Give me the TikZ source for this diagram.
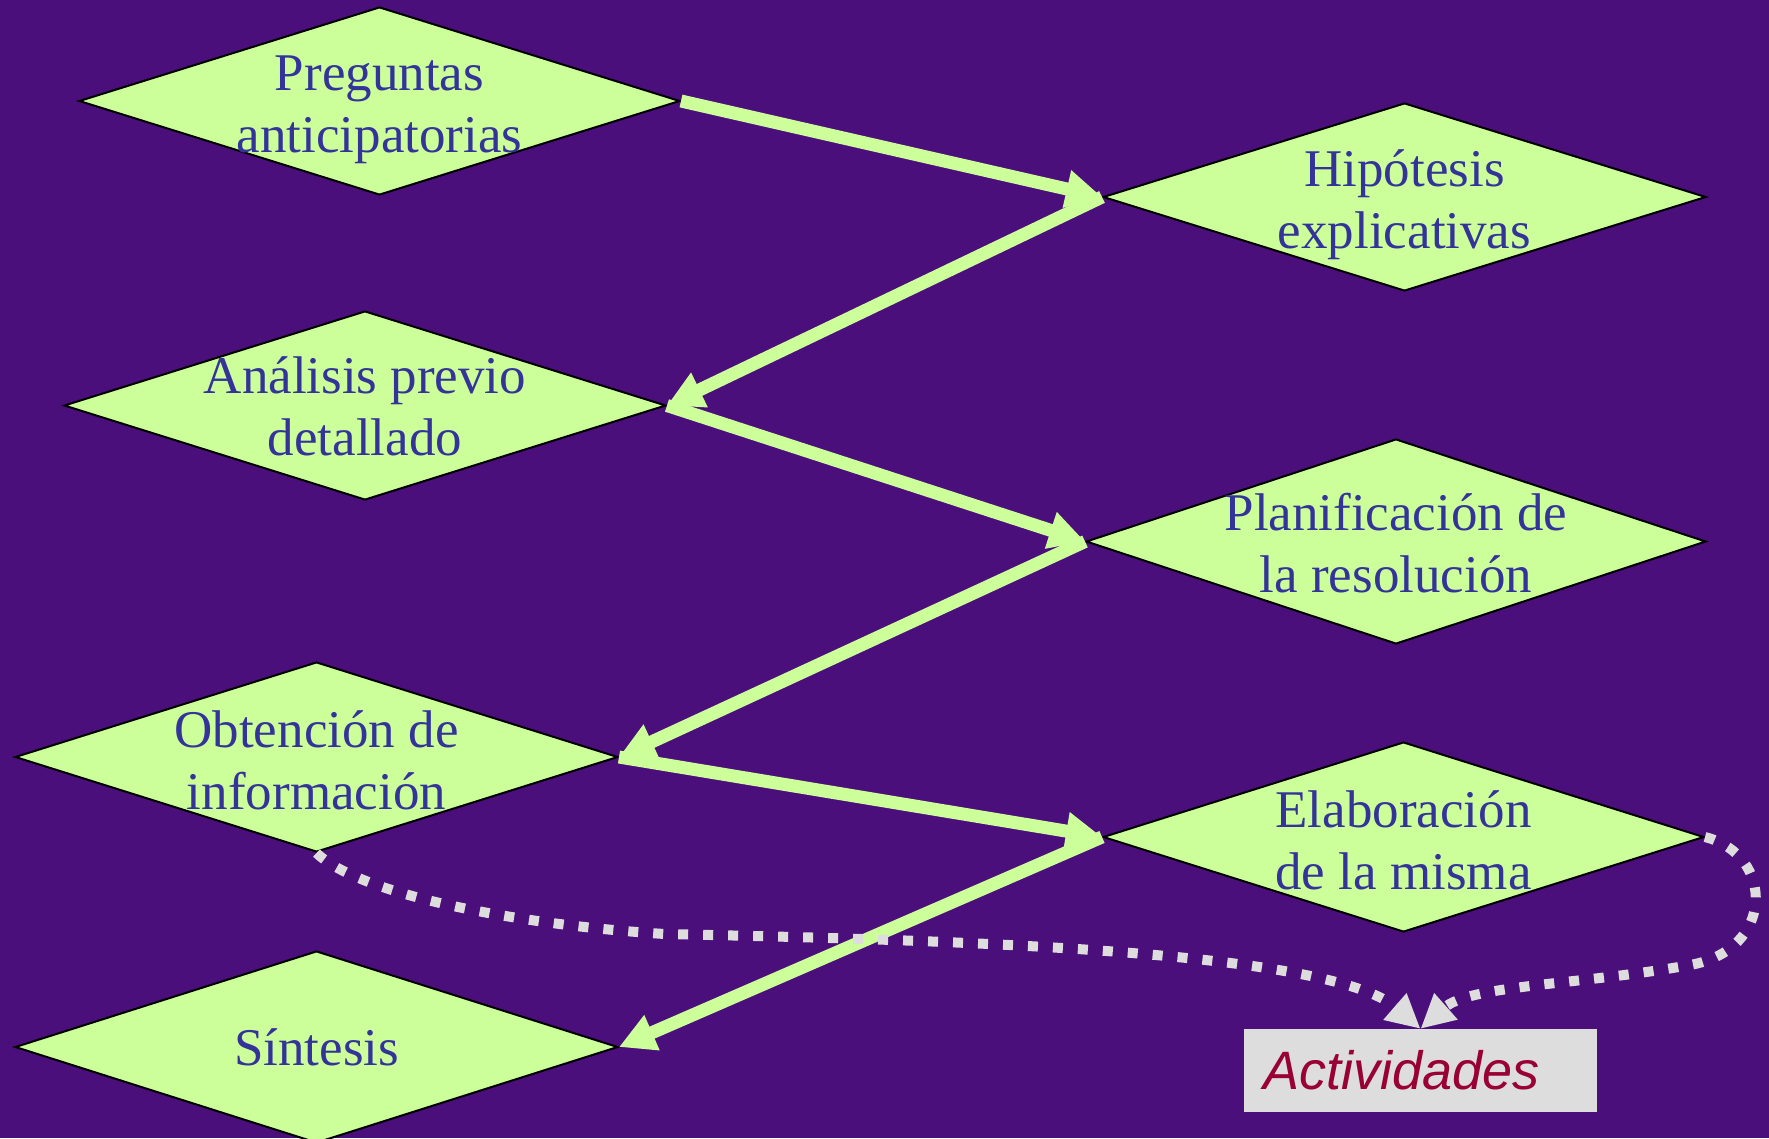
\documentclass[tikz,border=0pt]{standalone}
\usepackage{fontspec}
\setmainfont{Liberation Serif}
\newfontfamily\arialfont{Liberation Sans}
\usetikzlibrary{shapes.geometric,arrows.meta}
\definecolor{bg}{HTML}{4A0F7A}
\definecolor{lime}{HTML}{CCFF99}
\definecolor{txtblue}{HTML}{333399}
\definecolor{crim}{HTML}{990033}
\definecolor{lgray}{HTML}{DDDDDD}
\begin{document}
\begin{tikzpicture}[x=1pt,y=-1pt,
  dia/.style={shape=diamond, draw=black, line width=2pt, fill=lime, inner sep=0pt},
  lbl/.style={text=txtblue, align=center, font=\fontsize{53}{62}\selectfont, inner sep=0pt},
  flow/.style={draw=lime, line width=13pt, -{Triangle[length=36pt,width=36pt]}},
  dots/.style={draw=lgray, line width=10pt, dash pattern=on 10pt off 15pt, -{Triangle[length=34pt,width=33pt]}},
  actbox/.style={rectangle, fill=lgray, minimum width=353pt, minimum height=83pt, text width=315pt, inner xsep=19pt, inner ysep=0pt, align=left, text=crim, font=\arialfont\itshape\fontsize{54}{60}\selectfont}
]
\useasboundingbox (0,0) rectangle (1769,1138);
\clip (0,0) rectangle (1769,1138);
\fill[bg] (0,0) rectangle (1769,1138);

% diamonds
\node[dia, minimum width=601pt, minimum height=188pt] (pre) at (379.5,101) {};
\node[dia, minimum width=603pt, minimum height=188pt] (hyp) at (1404.5,197) {};
\node[dia, minimum width=602pt, minimum height=189pt] (ana) at (365,405.5) {};
\node[dia, minimum width=620pt, minimum height=205pt] (pla) at (1396,541.5) {};
\node[dia, minimum width=603pt, minimum height=190pt] (obt) at (316.5,757) {};
\node[dia, minimum width=601pt, minimum height=190pt] (ela) at (1403.5,837) {};
\node[dia, minimum width=603pt, minimum height=192pt] (sin) at (316.5,1047) {};

% labels
\node[lbl] (pre-t) at ([yshift=-9pt]pre) {Preguntas\\anticipatorias};
\node[lbl] (hyp-t) at ([yshift=-8pt]hyp) {Hipótesis\\explicativas};
\node[lbl] (ana-t) at ([yshift=-1pt]ana) {Análisis previo\\detallado};
\node[lbl] (pla-t) at ([yshift=-2pt]pla) {Planificación de\\la resolución};
\node[lbl] (obt-t) at ([yshift=-3pt]obt) {Obtención de\\información};
\node[lbl] (ela-t) at ([yshift=-3pt]ela) {Elaboración\\de la misma};
\node[lbl] (sin-t) at (sin) {Síntesis};

% activities box
\node[actbox] (act) at (1420.5,1070.5) {Actividades};

% flow arrows
\draw[flow] (pre.east) -- (hyp.west);
\draw[flow] (hyp.west) -- (ana.east);
\draw[flow] (ana.east) -- (pla.west);
\draw[flow] (pla.west) -- (obt.east);
\draw[flow] (obt.east) -- (ela.west);
\draw[flow] (ela.west) -- (sin.east);

% dotted arrows
\draw[dots] (obt.south) .. controls (360,895) and (520,925) .. (665,934)
  .. controls (950,940) and (1330,950) .. (act.north);
\draw[dots] (ela.east) .. controls (1775,855) and (1775,950) .. (1690,965)
  .. controls (1580,985) and (1470,985) .. (act.north);
\end{tikzpicture}
\end{document}
